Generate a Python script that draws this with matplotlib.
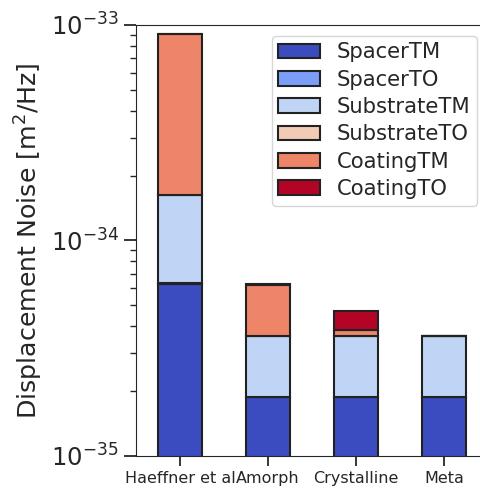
import numpy as np
import matplotlib
matplotlib.use("Agg")
import matplotlib.pyplot as plt
import seaborn as sns

sns.set_style("ticks")

# bar categories
labels = ["Haeffner et al", "Amorph", "Crystalline", "Meta"]

# noise contributions per source (m^2/Hz), stacked in this order
spacer_tm = [6.3e-35, 1.87e-35, 1.87e-35, 1.87e-35]
spacer_to = [2e-37, 1e-37, 1e-37, 1e-37]
substrate_tm = [1.0e-34, 1.73e-35, 1.73e-35, 1.73e-35]
substrate_to = [2e-37, 1e-37, 1e-37, 1e-37]
coating_tm = [7.4e-34, 2.6e-35, 2.2e-36, 0.0]
coating_to = [4e-36, 3e-37, 8.7e-36, 0.0]

series = [("SpacerTM", spacer_tm), ("SpacerTO", spacer_to),
          ("SubstrateTM", substrate_tm), ("SubstrateTO", substrate_to),
          ("CoatingTM", coating_tm), ("CoatingTO", coating_to)]

colors = plt.cm.coolwarm(np.linspace(0, 1, len(series)))

fig = plt.figure(figsize=(4.8, 4.9), dpi=100)
ax = fig.add_axes([0.2833, 0.0694, 0.7334, 0.8796])

x = np.arange(len(labels))
bottom = np.zeros(len(labels))
for (name, vals), c in zip(series, colors):
    vals = np.array(vals)
    ax.bar(x, vals, 0.5, bottom=bottom, color=c, edgecolor="#222222",
           linewidth=1.5, label=name)
    bottom = bottom + vals

ax.set_yscale("log")
ax.set_ylim(1e-35, 1e-33)
ax.set_xlim(-0.5, 3.5)
ax.set_xticks(x)
ax.set_xticklabels(labels, fontsize=11.5)
ax.tick_params(axis="y", which="major", labelsize=17.5, length=9, width=1.3)
ax.tick_params(axis="y", which="minor", length=4.5, width=1.0)
ax.tick_params(axis="x", length=7, width=1.3)
ax.set_ylabel("Displacement Noise [m$^2$/Hz]", fontsize=18.2, labelpad=4)
ax.legend(loc="upper right", fontsize=15.2, bbox_to_anchor=(0.969, 0.9745),
          borderaxespad=0, handlelength=2.0, handleheight=0.7,
          labelspacing=0.35, handletextpad=0.8, borderpad=0.3)

fig.savefig("out.png", dpi=100)
